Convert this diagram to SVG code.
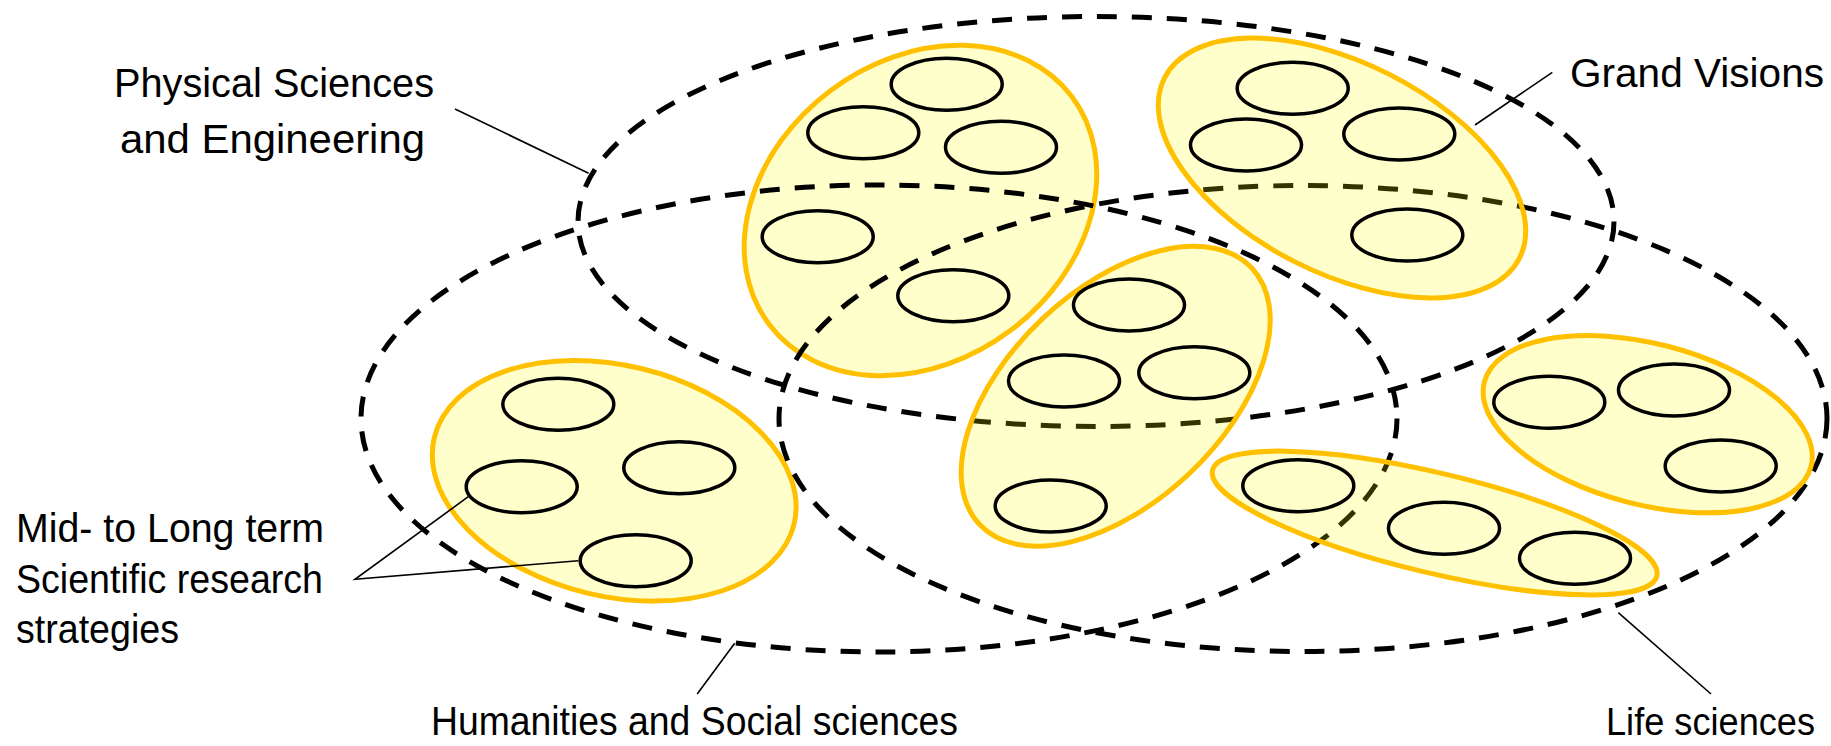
<svg xmlns="http://www.w3.org/2000/svg" width="1831" height="746" viewBox="0 0 1831 746">
  <style>
    .grp { fill: #FFFF00; fill-opacity: 0.2; stroke: #FFC000; stroke-width: 5; }
    .item { fill: none; stroke: #000000; stroke-width: 3.5; }
    .field { fill: none; stroke: #000000; stroke-width: 5; stroke-dasharray: 20 15; }
    .lead { fill: none; stroke: #000000; stroke-width: 1.6; }
    .lbl { font-family: "Liberation Sans", Arial, sans-serif; font-size: 40px; fill: #000000; }
  </style>
  <defs>
    <ellipse id="it" rx="55.5" ry="26" class="item"/>
  </defs>
  <rect width="1831" height="746" fill="#FFFFFF"/>

  <!-- strategy clusters lying beneath the field outlines -->
  <g id="cluster-upper-left">
    <ellipse class="grp" cx="920.5" cy="210.5" rx="189.4" ry="150" transform="rotate(-36.8 920.5 210.5)"/>
    <use href="#it" x="946.7" y="84.3"/>
    <use href="#it" x="863.3" y="132.7"/>
    <use href="#it" x="1001" y="147.3"/>
    <use href="#it" x="817.7" y="236.7"/>
    <use href="#it" x="953.3" y="295.7"/>
  </g>
  <g id="cluster-left">
    <ellipse class="grp" cx="614.2" cy="480.8" rx="185" ry="115.5" transform="rotate(13.5 614.2 480.8)"/>
    <use href="#it" x="558.3" y="404.3"/>
    <use href="#it" x="521.7" y="486.7"/>
    <use href="#it" x="679.3" y="467.7"/>
    <use href="#it" x="635.7" y="560.7"/>
  </g>

  <!-- research fields (dashed) -->
  <g id="field-physical">
    <ellipse class="field" cx="1096" cy="221.5" rx="518" ry="205"/>
  </g>
  <g id="field-humanities">
    <ellipse class="field" cx="879" cy="418.5" rx="518" ry="233.5"/>
  </g>
  <g id="field-life">
    <ellipse class="field" cx="1303" cy="418.5" rx="524" ry="233"/>
  </g>

  <!-- strategy clusters drawn over the field outlines -->
  <g id="cluster-grand-visions">
    <ellipse class="grp" cx="1342" cy="168" rx="199" ry="105" transform="rotate(26.9 1342 168)"/>
    <use href="#it" x="1292.7" y="88.3"/>
    <use href="#it" x="1246" y="145"/>
    <use href="#it" x="1399.3" y="134"/>
    <use href="#it" x="1407.3" y="235"/>
  </g>
  <g id="cluster-center">
    <ellipse class="grp" cx="1115.7" cy="396.3" rx="187" ry="106.7" transform="rotate(-43.3 1115.7 396.3)"/>
    <use href="#it" x="1129" y="305"/>
    <use href="#it" x="1064" y="381"/>
    <use href="#it" x="1194.3" y="372.7"/>
    <use href="#it" x="1050.7" y="506"/>
  </g>
  <g id="cluster-lower">
    <ellipse class="grp" cx="1434.7" cy="523" rx="228.4" ry="50" transform="rotate(13.4 1434.7 523)"/>
    <use href="#it" x="1298.3" y="485.7"/>
    <use href="#it" x="1444" y="528.3"/>
    <use href="#it" x="1575" y="558.3"/>
  </g>
  <g id="cluster-right">
    <ellipse class="grp" cx="1647.7" cy="424.2" rx="168.7" ry="80.5" transform="rotate(14.5 1647.7 424.2)"/>
    <use href="#it" x="1549.3" y="402.3"/>
    <use href="#it" x="1674" y="390"/>
    <use href="#it" x="1720.7" y="466"/>
  </g>

  <!-- leader lines -->
  <g id="connectors">
    <line class="lead" x1="455" y1="109" x2="588.6" y2="173.3"/>
    <line class="lead" x1="1552.3" y1="72.3" x2="1475" y2="125"/>
    <polyline class="lead" points="468.3,496.7 355,579.3 578.3,560.7"/>
    <line class="lead" x1="734.7" y1="643.3" x2="697.2" y2="694"/>
    <line class="lead" x1="1618.3" y1="612.7" x2="1711" y2="694"/>
  </g>

  <!-- labels -->
  <g id="labels">
    <text class="lbl" x="114" y="97" textLength="320" lengthAdjust="spacingAndGlyphs">Physical Sciences</text>
    <text class="lbl" x="120" y="153" textLength="305" lengthAdjust="spacingAndGlyphs">and Engineering</text>
    <text class="lbl" x="1570" y="87" textLength="254" lengthAdjust="spacingAndGlyphs">Grand Visions</text>
    <text class="lbl" x="16" y="542" textLength="308" lengthAdjust="spacingAndGlyphs">Mid- to Long term</text>
    <text class="lbl" x="16" y="593" textLength="307" lengthAdjust="spacingAndGlyphs">Scientific research</text>
    <text class="lbl" x="16" y="643" textLength="163" lengthAdjust="spacingAndGlyphs">strategies</text>
    <text class="lbl" x="431" y="735" textLength="527" lengthAdjust="spacingAndGlyphs">Humanities and Social sciences</text>
    <text class="lbl" x="1606" y="735" font-size="38" style="font-size:38px" textLength="209" lengthAdjust="spacingAndGlyphs">Life sciences</text>
  </g>
</svg>
